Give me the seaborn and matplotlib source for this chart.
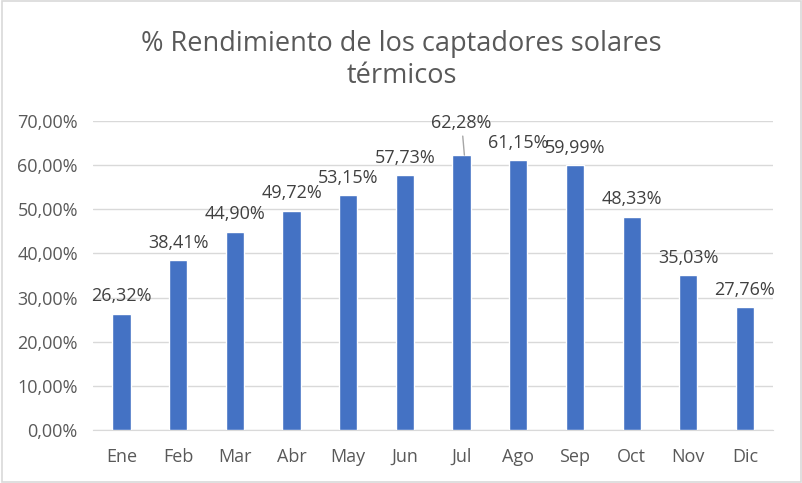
import numpy as np
import pandas as pd
import matplotlib.pyplot as plt
import seaborn as sns
from matplotlib.patches import Rectangle
from matplotlib.ticker import FuncFormatter

meses = ["Ene", "Feb", "Mar", "Abr", "May", "Jun", "Jul", "Ago", "Sep", "Oct", "Nov", "Dic"]
rendimiento = [26.32, 38.41, 44.90, 49.72, 53.15, 57.73, 62.28, 61.15, 59.99, 48.33, 35.03, 27.76]

df = pd.DataFrame({"mes": meses, "rend": rendimiento})

sns.set_style("white")
plt.rcParams['font.family'] = ['Open Sans', 'DejaVu Sans']

fig = plt.figure(figsize=(8.03, 4.83), dpi=100)
ax = fig.add_axes([0.116, 0.1097, 0.847, 0.6398])

sns.barplot(data=df, x="mes", y="rend", color="#4472C4", width=0.32,
            saturation=1, ax=ax, zorder=3)

ax.set_ylim(0, 70)
ax.set_yticks(np.arange(0, 71, 10))
ax.yaxis.set_major_formatter(FuncFormatter(lambda v, p: f"{v:.2f}%".replace(".", ",")))
ax.grid(axis="y", color="#d9d9d9", linewidth=1, zorder=0)
ax.set_xlabel("")
ax.set_ylabel("")
for s in ["top", "right", "left"]:
    ax.spines[s].set_visible(False)
ax.spines["bottom"].set_color("#d9d9d9")
ax.tick_params(axis="both", length=0, labelsize=13, labelcolor="#595959")
ax.tick_params(axis="y", pad=11)
ax.tick_params(axis="x", pad=13)

for i, v in enumerate(rendimiento):
    txt = f"{v:.2f}%".replace(".", ",")
    if meses[i] == "Jul":
        # etiqueta desplazada con línea guía, como en el original
        ax.annotate(txt, xy=(i + 0.05, v), xytext=(-2, 23), textcoords="offset points",
                    ha="center", va="center", fontsize=13, color="#404040",
                    arrowprops=dict(arrowstyle="-", color="#a6a6a6", lw=1,
                                    shrinkA=0.5, shrinkB=0))
    else:
        ax.annotate(txt, xy=(i, v), xytext=(0, 6), textcoords="offset points",
                    ha="center", va="bottom", fontsize=13, color="#404040")

fig.text(0.5, 0.875, "% Rendimiento de los captadores solares\ntérmicos",
         ha="center", va="center", fontsize=19.5, color="#595959", linespacing=1.2)

fig.patches.append(Rectangle((0.002, 0.003), 0.996, 0.994, transform=fig.transFigure,
                             fill=False, edgecolor="#d9d9d9", linewidth=1.2))

fig.savefig("out.png", dpi=100)
